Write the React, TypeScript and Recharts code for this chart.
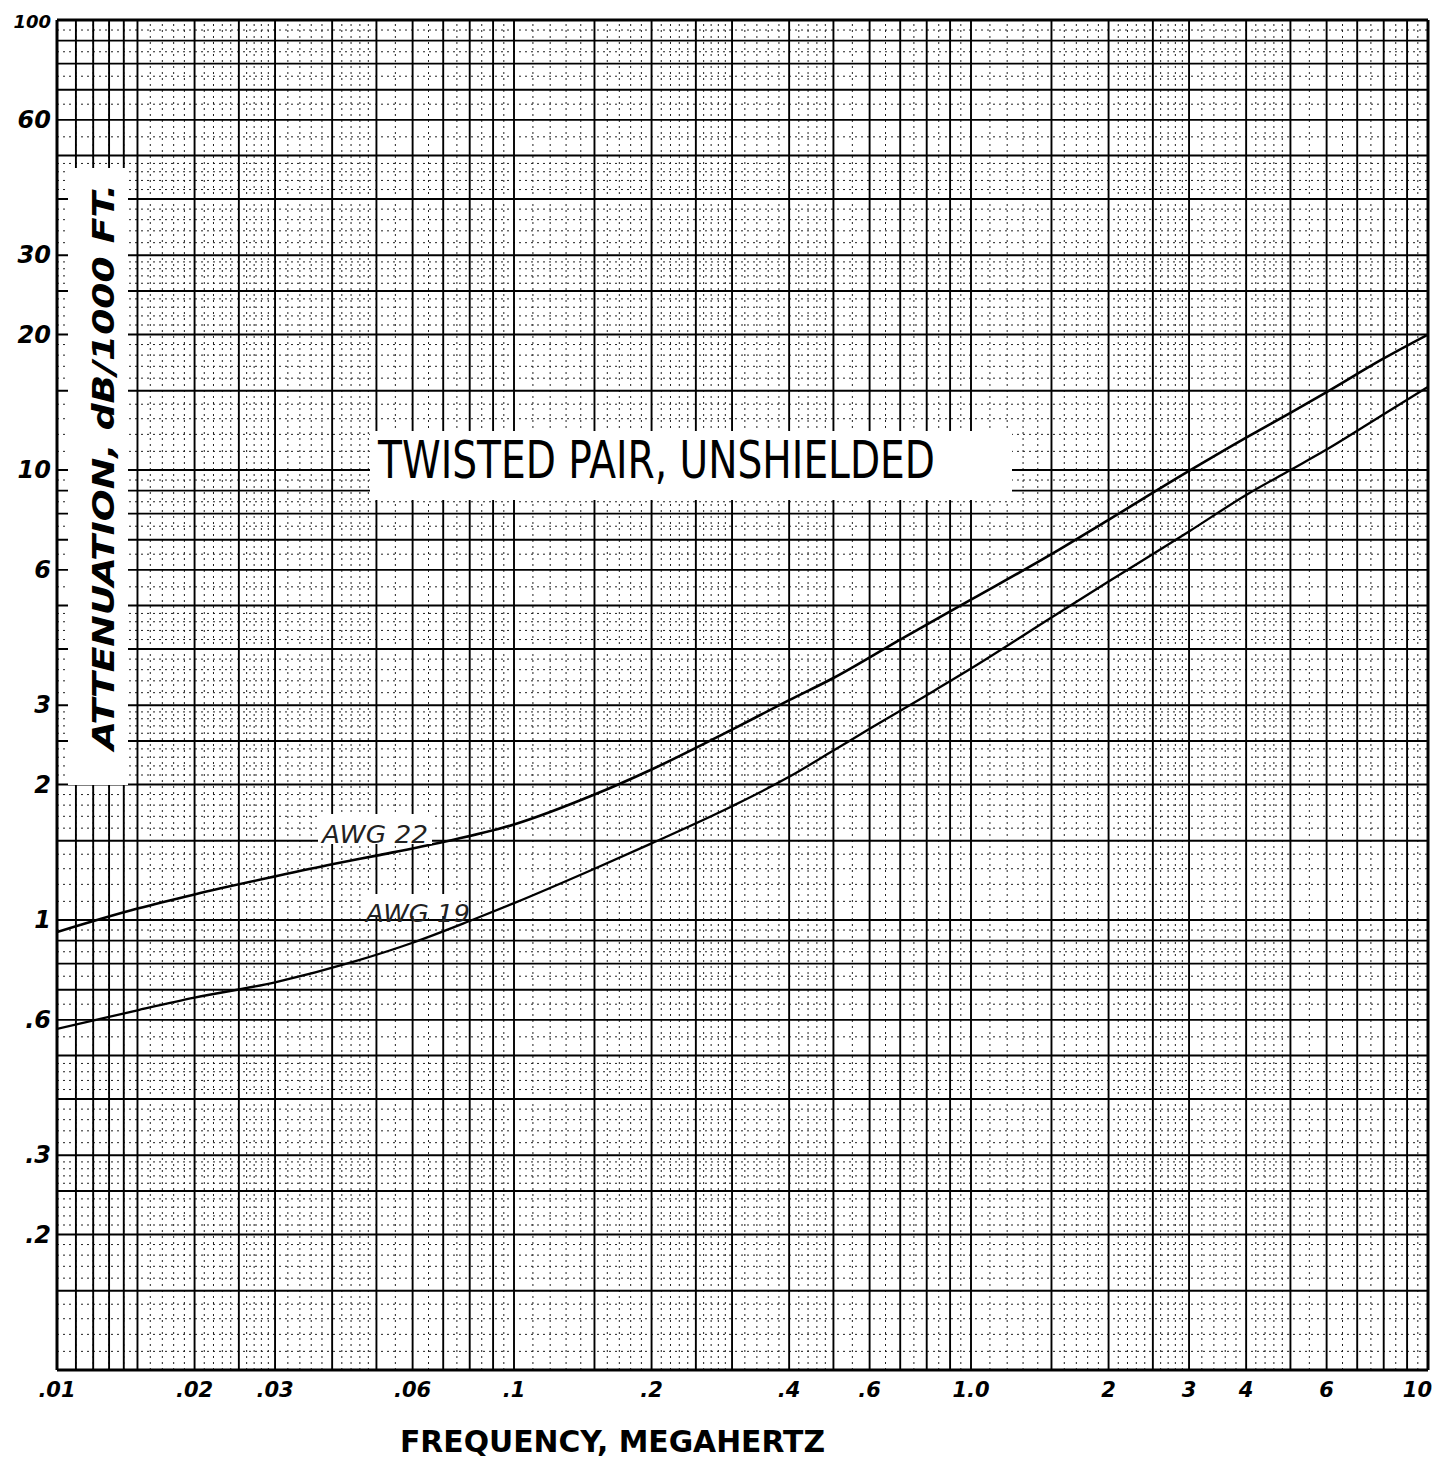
import { LineChart, Line, XAxis, YAxis, ReferenceLine } from "recharts"

// frequency axis ticks (MHz) and their hand-lettered labels
const X_TICKS = [0.01, 0.02, 0.03, 0.06, 0.1, 0.2, 0.4, 0.6, 1, 2, 3, 4, 6, 10]
const X_TICK_LABELS = [".01", ".02", ".03", ".06", ".1", ".2", ".4", ".6", "1.0", "2", "3", "4", "6", "10"]

// attenuation axis ticks (dB / 1000 ft)
const Y_TICKS = [0.2, 0.3, 0.6, 1, 2, 3, 6, 10, 20, 30, 60, 100]
const Y_TICK_LABELS = [".2", ".3", ".6", "1", "2", "3", "6", "10", "20", "30", "60", "100"]

// AWG 22 curve
const AWG22_FREQ = [0.01, 0.015, 0.02, 0.03, 0.04, 0.05, 0.07, 0.1, 0.15, 0.2, 0.3, 0.4, 0.5, 0.7, 1, 1.5, 2, 3, 4, 5, 6, 8, 10]
const AWG22_DB = [0.94, 1.06, 1.14, 1.25, 1.33, 1.39, 1.49, 1.63, 1.9, 2.16, 2.65, 3.08, 3.45, 4.2, 5.15, 6.5, 7.75, 9.95, 11.8, 13.4, 14.9, 17.7, 20.0]

// AWG 19 curve
const AWG19_FREQ = [0.01, 0.015, 0.02, 0.03, 0.045, 0.06, 0.08, 0.1, 0.15, 0.2, 0.3, 0.4, 0.5, 0.6, 0.8, 1, 1.5, 2, 3, 4, 5, 6, 8, 10]
const AWG19_DB = [0.573, 0.63, 0.672, 0.727, 0.81, 0.89, 0.995, 1.09, 1.3, 1.48, 1.79, 2.08, 2.38, 2.66, 3.16, 3.62, 4.7, 5.65, 7.3, 8.8, 10.0, 11.1, 13.3, 15.3]

// log paper ruling
const X_DECADES = [0.01, 0.1, 1]
const Y_DECADES = [0.1, 1, 10]
const SOLID_MANTISSAS = [1, 1.5, 2, 2.5, 3, 4, 5, 6, 7, 8, 9]
const DOTTED_MANTISSAS = [1.1, 1.2, 1.3, 1.4, 1.6, 1.7, 1.8, 1.9, 2.1, 2.2, 2.3, 2.4, 2.6, 2.7, 2.8, 2.9, 3.2, 3.4, 3.6, 3.8, 4.2, 4.4, 4.6, 4.8, 5.5, 6.5, 7.5, 8.5, 9.5]
const X_EXTRA_SOLID = [0.011, 0.012, 0.013, 0.014]

const W = 1436
const H = 1477

const awg22 = AWG22_FREQ.map((f, i) => ({ f, db: AWG22_DB[i] }))
const awg19 = AWG19_FREQ.map((f, i) => ({ f, db: AWG19_DB[i] }))

const xSolid = X_DECADES.flatMap((d) => SOLID_MANTISSAS.map((m) => d * m)).concat(X_EXTRA_SOLID)
const xDotted = X_DECADES.flatMap((d) => DOTTED_MANTISSAS.map((m) => d * m))
const ySolid = Y_DECADES.flatMap((d) => SOLID_MANTISSAS.map((m) => d * m))
const yDotted = Y_DECADES.flatMap((d) => DOTTED_MANTISSAS.map((m) => d * m))

const HAND = "'DejaVu Sans', 'Liberation Sans', sans-serif"

function XTick(props: any) {
  const i = X_TICKS.findIndex((t) => Math.abs(t - props.payload.value) < 1e-9)
  const last = i === X_TICKS.length - 1
  return (
    <text
      x={last ? props.x + 4 : props.x}
      y={1397}
      textAnchor={last ? "end" : "middle"}
      fontFamily={HAND}
      fontWeight="bold"
      fontStyle="italic"
      fontSize={21}
      fill="#000"
    >
      {X_TICK_LABELS[i]}
    </text>
  )
}

function YTick(props: any) {
  const i = Y_TICKS.findIndex((t) => Math.abs(t - props.payload.value) < 1e-9)
  const small = Y_TICK_LABELS[i] === "100"
  return (
    <text x={51} y={props.y + 8} textAnchor="end" fontFamily={HAND} fontWeight="bold" fontStyle="italic" fontSize={small ? 18 : 24} fill="#000">
      {Y_TICK_LABELS[i]}
    </text>
  )
}

export default function App() {
  return (
    <div style={{ position: "absolute", left: 0, top: 0, width: W, height: H, background: "#fff" }}>
      <LineChart width={W} height={H} margin={{ top: 20, right: 8, bottom: 0, left: 0 }}>
        <XAxis
          dataKey="f"
          type="number"
          scale="log"
          domain={[0.01, 10]}
          allowDataOverflow
          ticks={X_TICKS}
          tick={<XTick />}
          tickLine={false}
          axisLine={{ stroke: "#000", strokeWidth: 3 }}
          height={107}
          interval={0}
        />
        <YAxis
          type="number"
          scale="log"
          domain={[0.1, 100]}
          allowDataOverflow
          ticks={Y_TICKS}
          tick={<YTick />}
          tickLine={false}
          axisLine={{ stroke: "#000", strokeWidth: 3 }}
          width={57}
          interval={0}
        />
        {xDotted.map((v) => (
          <ReferenceLine key={`xd${v}`} x={v} stroke="#222" strokeWidth={1} strokeDasharray="2 4" />
        ))}
        {yDotted.map((v) => (
          <ReferenceLine key={`yd${v}`} y={v} stroke="#222" strokeWidth={1} strokeDasharray="2 4" />
        ))}
        {xSolid.map((v) => (
          <ReferenceLine key={`xs${v}`} x={v} stroke="#000" strokeWidth={1.9} />
        ))}
        {ySolid.map((v) => (
          <ReferenceLine key={`ys${v}`} y={v} stroke="#000" strokeWidth={1.9} />
        ))}
        <ReferenceLine x={10} stroke="#000" strokeWidth={3} />
        <ReferenceLine y={100} stroke="#000" strokeWidth={3} />
        <Line data={awg22} dataKey="db" type="monotone" stroke="#000" strokeWidth={2.6} dot={false} isAnimationActive={false} />
        <Line data={awg19} dataKey="db" type="monotone" stroke="#000" strokeWidth={2.3} dot={false} isAnimationActive={false} />
      </LineChart>

      <svg width={W} height={H} style={{ position: "absolute", left: 0, top: 0, pointerEvents: "none" }}>
        {/* white patches pasted over the graph paper */}
        <rect x={68} y={168} width={60} height={617} fill="#fff" />
        <rect x={370} y={431} width={642} height={69} fill="#fff" />
        <rect x={318} y={814} width={114} height={30} fill="#fff" />
        <rect x={362} y={894} width={96} height={22} fill="#fff" />

        <text
          transform="translate(114, 467) rotate(-90)"
          textAnchor="middle"
          fontFamily={HAND}
          fontWeight="bold"
          fontStyle="italic"
          fontSize={30}
          textLength={566}
          lengthAdjust="spacingAndGlyphs"
          fill="#000"
        >
          ATTENUATION, dB/1000 FT.
        </text>
        <text
          x={378}
          y={478}
          fontFamily="'Liberation Sans Narrow', 'DejaVu Sans Condensed', sans-serif"
          fontSize={52}
          textLength={557}
          lengthAdjust="spacingAndGlyphs"
          fill="#000"
        >
          TWISTED PAIR, UNSHIELDED
        </text>
        <text x={322} y={843} fontFamily={HAND} fontStyle="italic" fontSize={24} textLength={106} lengthAdjust="spacingAndGlyphs" fill="#222">
          AWG 22
        </text>
        <text x={366} y={922} fontFamily={HAND} fontStyle="italic" fontSize={24} textLength={104} lengthAdjust="spacingAndGlyphs" fill="#222">
          AWG 19
        </text>
        <text
          x={400}
          y={1452}
          fontFamily={HAND}
          fontWeight="bold"
          fontSize={30}
          textLength={425}
          lengthAdjust="spacingAndGlyphs"
          fill="#000"
        >
          FREQUENCY, MEGAHERTZ
        </text>
      </svg>
    </div>
  )
}
